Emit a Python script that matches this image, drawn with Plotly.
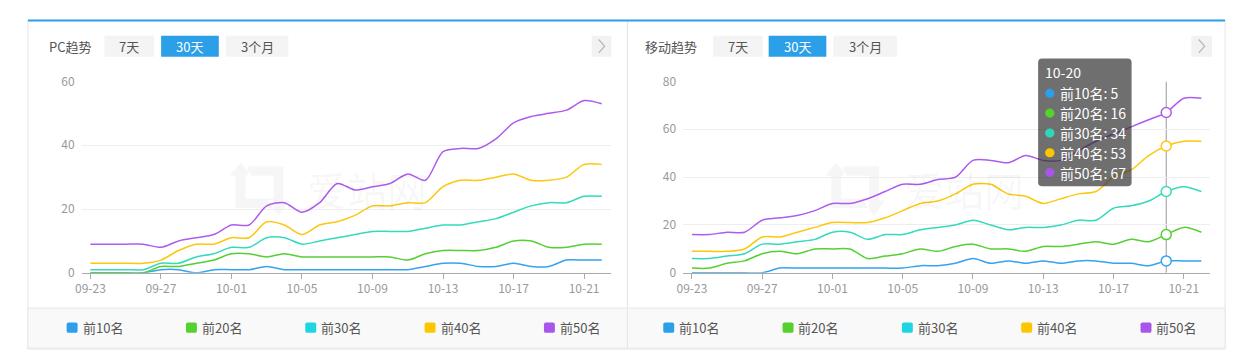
import plotly.graph_objects as go

# ---------------- data ----------------
dates = ["09-23", "09-24", "09-25", "09-26", "09-27", "09-28", "09-29", "09-30",
         "10-01", "10-02", "10-03", "10-04", "10-05", "10-06", "10-07", "10-08",
         "10-09", "10-10", "10-11", "10-12", "10-13", "10-14", "10-15", "10-16",
         "10-17", "10-18", "10-19", "10-20", "10-21", "10-22"]
tick_dates = ["09-23", "09-27", "10-01", "10-05", "10-09", "10-13", "10-17", "10-21"]
series_names = ["前10名", "前20名", "前30名", "前40名", "前50名"]

pc_top10 = [0, 0, 0, 0, 1, 1, 0, 1, 1, 1, 2, 1, 1, 1, 1, 1, 1, 1, 1, 2, 3, 3, 2, 2, 3, 2, 2, 4, 4, 4]
pc_top20 = [0, 0, 0, 0, 2, 2, 3, 4, 6, 6, 5, 6, 5, 5, 5, 5, 5, 5, 4, 6, 7, 7, 7, 8, 10, 10, 8, 8, 9, 9]
pc_top30 = [1, 1, 1, 1, 3, 3, 5, 6, 8, 8, 11, 11, 9, 10, 11, 12, 13, 13, 13, 14, 15, 15, 16, 17, 19, 21, 22, 22, 24, 24]
pc_top40 = [3, 3, 3, 3, 4, 7, 9, 9, 11, 11, 16, 15, 12, 15, 16, 18, 21, 21, 22, 22, 27, 29, 29, 30, 31, 29, 29, 30, 34, 34]
pc_top50 = [9, 9, 9, 9, 8, 10, 11, 12, 15, 15, 21, 22, 19, 22, 28, 26, 27, 28, 31, 29, 38, 39, 39, 42, 47, 49, 50, 51, 54, 53]

mob_top10 = [0, 0, 0, 0, 0, 2, 2, 2, 2, 2, 2, 2, 2, 3, 3, 4, 6, 4, 5, 4, 5, 4, 5, 5, 4, 4, 3, 5, 5, 5]
mob_top20 = [2, 2, 4, 5, 8, 9, 8, 10, 10, 10, 6, 7, 8, 10, 9, 11, 12, 10, 10, 9, 11, 11, 12, 13, 12, 14, 13, 16, 19, 17]
mob_top30 = [6, 6, 7, 8, 12, 12, 13, 14, 17, 17, 14, 16, 16, 18, 19, 20, 22, 20, 18, 19, 19, 20, 22, 22, 27, 28, 30, 34, 36, 34]
mob_top40 = [9, 9, 9, 10, 15, 15, 17, 19, 21, 21, 21, 23, 26, 29, 30, 33, 37, 37, 33, 32, 29, 31, 33, 34, 40, 43, 49, 53, 55, 55]
mob_top50 = [16, 16, 17, 17, 22, 23, 24, 26, 29, 29, 31, 34, 37, 37, 39, 40, 47, 47, 46, 49, 47, 47, 51, 55, 58, 61, 64, 67, 73, 73]

pc_series = [pc_top10, pc_top20, pc_top30, pc_top40, pc_top50]
mob_series = [mob_top10, mob_top20, mob_top30, mob_top40, mob_top50]
tooltip_date = "10-20"

# ---------------- styles ----------------
line_colors = ["#35a3ee", "#55d034", "#34dabd", "#fdc70e", "#ad5cee"]
legend_colors = ["#2b9fe9", "#55d12f", "#1fd5e2", "#fdc600", "#a855ea"]
dot_colors = ["#2b9fe9", "#55d12f", "#2fd6b9", "#fdc600", "#a855ea"]
FONT = "Microsoft YaHei, Noto Sans CJK SC, sans-serif"
W, H = 1235, 357


def X(px):
    return px / W


def Y(py):
    return 1 - py / H


fig = go.Figure()

for vals, col in zip(pc_series, line_colors):
    fig.add_trace(go.Scatter(x=dates, y=vals, mode="lines", xaxis="x", yaxis="y",
                             line=dict(color=col, width=1.5, shape="spline", smoothing=0.8),
                             hoverinfo="skip", showlegend=False))
for vals, col in zip(mob_series, line_colors):
    fig.add_trace(go.Scatter(x=dates, y=vals, mode="lines", xaxis="x2", yaxis="y2",
                             line=dict(color=col, width=1.5, shape="spline", smoothing=0.8),
                             hoverinfo="skip", showlegend=False))

ti = dates.index(tooltip_date)
for vals, col in zip(mob_series, line_colors):
    fig.add_trace(go.Scatter(x=[dates[ti]], y=[vals[ti]], mode="markers", xaxis="x2", yaxis="y2",
                             marker=dict(size=10, color="white", line=dict(color=col, width=1.5)),
                             hoverinfo="skip", showlegend=False))

xcommon = dict(type="category", range=[-0.5, len(dates) - 0.5], tickmode="array",
               tickvals=tick_dates, ticktext=tick_dates, ticks="outside", ticklen=5,
               tickcolor="#aaaaaa", showline=True, linecolor="#aaaaaa", linewidth=1,
               showgrid=False, zeroline=False, fixedrange=True,
               tickfont=dict(size=12, color="#999999", family=FONT))
ycommon = dict(showgrid=True, gridcolor="#eeeeee", gridwidth=1, showline=False, ticks="",
               zeroline=False, dtick=20, ticklabelstandoff=6, fixedrange=True,
               tickfont=dict(size=12, color="#999999", family=FONT))

fig.update_layout(
    width=W, height=H, autosize=False,
    margin=dict(l=0, r=0, t=0, b=0),
    paper_bgcolor="white", plot_bgcolor="rgba(0,0,0,0)",
    xaxis=dict(domain=[X(75), X(607)], anchor="y", **xcommon),
    yaxis=dict(domain=[Y(276), Y(75)], anchor="x", range=[0, 60], **ycommon),
    xaxis2=dict(domain=[X(680), X(1210)], anchor="y2", **xcommon),
    yaxis2=dict(domain=[Y(276), Y(75)], anchor="x2", range=[0, 80], **ycommon),
    font=dict(family=FONT),
)

shapes = []
annotations = []

# panels
for (l, r) in [(21, 624), (624, 1225)]:
    shapes.append(dict(type="rect", xref="paper", yref="paper", x0=X(l), x1=X(r), y0=Y(356), y1=Y(11),
                       line=dict(color="#e6e6e6", width=1), fillcolor="rgba(0,0,0,0)", layer="below"))
    shapes.append(dict(type="rect", xref="paper", yref="paper", x0=X(l), x1=X(r), y0=Y(355), y1=Y(313),
                       line=dict(color="#e6e6e6", width=1), fillcolor="#f9f9f9", layer="below"))
# top blue bar
shapes.append(dict(type="rect", xref="paper", yref="paper", x0=X(21), x1=X(1225), y0=Y(12), y1=Y(10),
                   line=dict(width=0), fillcolor="#2b9fe8", layer="above"))

# headers
headers = [("PC趋势", 40, [(98, 148, "7天"), (155, 213, "30天"), (220, 283, "3个月")], (588, 608)),
           ("移动趋势", 640, [(710, 760, "7天"), (766, 824, "30天"), (831, 895, "3个月")], (1191, 1212))]
for title, tx, btns, chev in headers:
    annotations.append(dict(xref="paper", yref="paper", x=X(tx), y=Y(38), xanchor="left", yanchor="middle",
                            text=title, showarrow=False, font=dict(size=13, color="#555555", family=FONT)))
    for (b0, b1, lab) in btns:
        sel = lab == "30天"
        shapes.append(dict(type="rect", xref="paper", yref="paper", x0=X(b0), x1=X(b1), y0=Y(49), y1=Y(27),
                           line=dict(width=0), fillcolor="#2b9fe8" if sel else "#f4f4f4", layer="below"))
        annotations.append(dict(xref="paper", yref="paper", x=X((b0 + b1) / 2), y=Y(38), xanchor="center",
                                yanchor="middle", text=lab, showarrow=False,
                                font=dict(size=13, color="white" if sel else "#555555", family=FONT)))
    c0, c1 = chev
    shapes.append(dict(type="rect", xref="paper", yref="paper", x0=X(c0), x1=X(c1), y0=Y(49), y1=Y(27),
                       line=dict(width=0), fillcolor="#f2f2f2", layer="below"))
    cx = (c0 + c1) / 2
    shapes.append(dict(type="path", xref="paper", yref="paper",
                       path=f"M {X(cx-3)} {Y(31)} L {X(cx+3)} {Y(38)} L {X(cx-3)} {Y(45)}",
                       line=dict(color="#b5b5b5", width=1.2), layer="above"))

# legends
for base in (60, 660):
    for k, (name, col) in enumerate(zip(series_names, legend_colors)):
        sx = base + 120 * k
        x0, x1, y0, y1 = sx, sx + 11, 328, 339
        r = 2
        path = (f"M {X(x0+r)} {Y(y0)} L {X(x1-r)} {Y(y0)} Q {X(x1)} {Y(y0)} {X(x1)} {Y(y0+r)} "
                f"L {X(x1)} {Y(y1-r)} Q {X(x1)} {Y(y1)} {X(x1-r)} {Y(y1)} L {X(x0+r)} {Y(y1)} "
                f"Q {X(x0)} {Y(y1)} {X(x0)} {Y(y1-r)} L {X(x0)} {Y(y0+r)} Q {X(x0)} {Y(y0)} {X(x0+r)} {Y(y0)} Z")
        shapes.append(dict(type="path", xref="paper", yref="paper", path=path,
                           fillcolor=col, line=dict(width=0), layer="above"))
        annotations.append(dict(xref="paper", yref="paper", x=X(sx + 14), y=Y(333.5), xanchor="left",
                                yanchor="middle", text=name, showarrow=False,
                                font=dict(size=13, color="#555555", family=FONT)))

# watermarks
for lx, tx in [(228, 362), (827, 962)]:
    annotations.append(dict(xref="paper", yref="paper", x=X(tx), y=Y(188), xanchor="center", yanchor="middle",
                            text="爱站网", showarrow=False,
                            font=dict(size=40, color="rgba(0,0,0,0.045)", family=FONT)))
    oy = 158

    def P(a, b):
        return f"{X(lx + a)} {Y(oy + b)}"

    logo = (f"M {P(2,16)} L {P(-4,16)} L {P(7,2)} L {P(18,16)} L {P(12,16)} L {P(12,40)} L {P(40,40)} "
            f"L {P(40,16)} L {P(14,16)} L {P(14,6)} L {P(50,6)} L {P(50,42)} L {P(56,42)} L {P(45,58)} "
            f"L {P(34,42)} L {P(40,42)} L {P(40,50)} L {P(2,50)} Z")
    shapes.append(dict(type="path", xref="paper", yref="paper", path=logo,
                       fillcolor="rgba(0,0,0,0.035)", line=dict(width=0), layer="below"))

# tooltip crosshair
shapes.append(dict(type="line", xref="x2", yref="y2", x0=tooltip_date, x1=tooltip_date, y0=0, y1=80,
                   line=dict(color="#999999", width=1), layer="below"))

# tooltip box
bx0, bx1, by0, by1, rr = 1037, 1131, 51, 185, 4
tpath = (f"M {X(bx0+rr)} {Y(by0)} L {X(bx1-rr)} {Y(by0)} Q {X(bx1)} {Y(by0)} {X(bx1)} {Y(by0+rr)} "
         f"L {X(bx1)} {Y(by1-rr)} Q {X(bx1)} {Y(by1)} {X(bx1-rr)} {Y(by1)} L {X(bx0+rr)} {Y(by1)} "
         f"Q {X(bx0)} {Y(by1)} {X(bx0)} {Y(by1-rr)} L {X(bx0)} {Y(by0+rr)} Q {X(bx0)} {Y(by0)} {X(bx0+rr)} {Y(by0)} Z")
shapes.append(dict(type="path", xref="paper", yref="paper", path=tpath,
                   fillcolor="rgba(50,50,50,0.7)", line=dict(width=0), layer="above"))
annotations.append(dict(xref="paper", yref="paper", x=X(1042), y=Y(65.5), xanchor="left", yanchor="middle",
                        text=tooltip_date, showarrow=False, font=dict(size=14, color="white", family=FONT)))
for k, (name, vals, dc) in enumerate(zip(series_names, mob_series, dot_colors)):
    yy = 87.5 + 20.8 * k
    shapes.append(dict(type="circle", xref="paper", yref="paper", x0=X(1044), x1=X(1053.5),
                       y0=Y(yy - 4.75), y1=Y(yy + 4.75), fillcolor=dc, line=dict(width=0), layer="above"))
    annotations.append(dict(xref="paper", yref="paper", x=X(1057), y=Y(yy), xanchor="left", yanchor="middle",
                            text=f"{name}: {vals[ti]}", showarrow=False,
                            font=dict(size=14, color="white", family=FONT)))

fig.update_layout(shapes=shapes, annotations=annotations)
fig.write_html("out.html", config={"displayModeBar": False},
               post_script="document.body.style.margin='0';document.body.style.overflow='hidden';")
